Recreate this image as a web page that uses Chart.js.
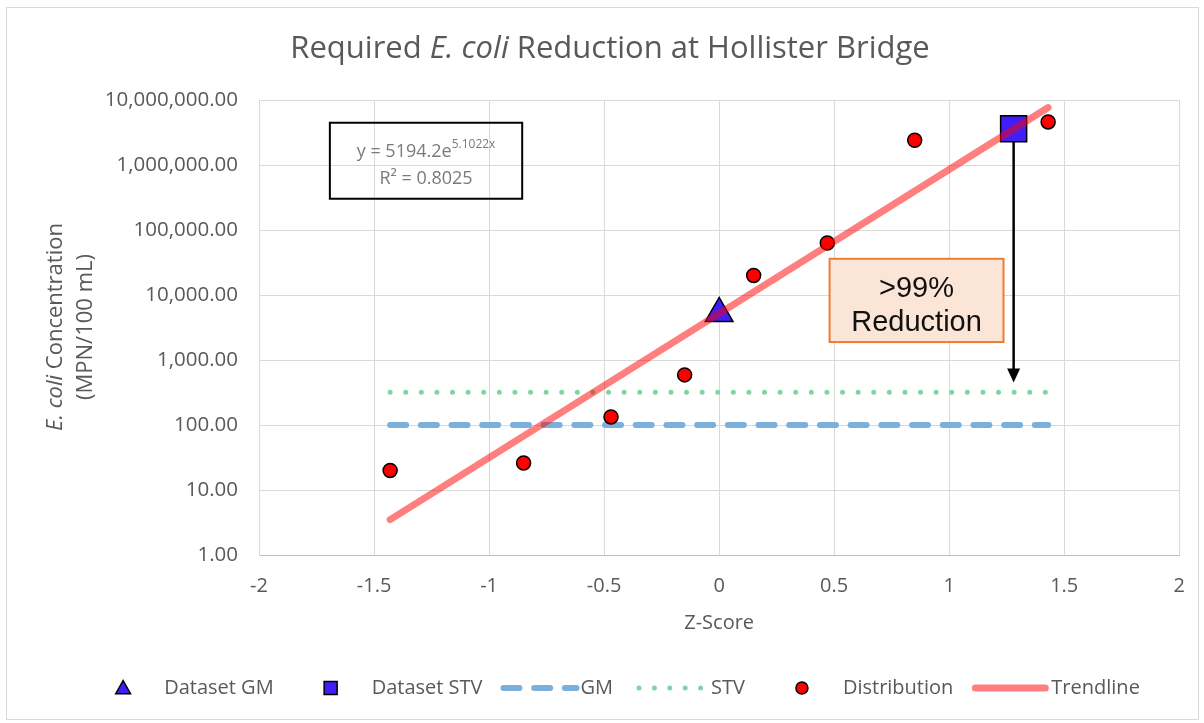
<!DOCTYPE html>
<html>
<head>
<meta charset="utf-8">
<title>Required E. coli Reduction at Hollister Bridge</title>
<script src="https://cdn.jsdelivr.net/npm/chart.js@4.4.1/dist/chart.umd.min.js"></script>
<style>
  html, body { margin: 0; padding: 0; background: #fff; }
  #c { display: block; }
</style>
</head>
<body>
<canvas id="c" width="1204" height="723"></canvas>
<script>
// Data
const zScores = [-1.43, -0.85, -0.47, -0.15, 0.15, 0.47, 0.85, 1.43]
const distribution = [20, 26, 133, 590, 20000, 63000, 2400000, 4600000]
const gmZ = [0]
const gmValue = [5194]
const stvZ = [1.28]
const stvValue = [3600000]
const limitZ = [-1.43, 1.43]
const gmLimit = [100, 100]
const stvLimit = [320, 320]
const trendZ = [-1.43, 1.43]
const trendValue = [3.5, 7650000]
const arrowEnd = 450
const yTicks = [1, 10, 100, 1000, 10000, 100000, 1000000, 10000000]

const FONT = '"Open Sans", sans-serif'
const GREY = '#595959'

// Couleurs
const C = {
  trend: 'rgba(255,0,0,0.5)',
  blue: '#3F1FF5',
  red: '#FF0000',
  gm: '#7BAFDC',
  stv: '#82D3A2',
  grid: '#d9d9d9',
}

const pts = (xs, ys) => xs.map((x, i) => ({ x, y: ys[i] }))

// Helper : texte en plusieurs morceaux (italique / normal)
function drawRuns(ctx, runs, cx, y, size) {
  let total = 0
  runs.forEach(r => {
    ctx.font = `${r.it ? 'italic ' : ''}${size}px ${FONT}`
    r.w = ctx.measureText(r.t).width
    total += r.w
  })
  let x = cx - total / 2
  runs.forEach(r => {
    ctx.font = `${r.it ? 'italic ' : ''}${size}px ${FONT}`
    ctx.fillText(r.t, x, y)
    x += r.w
  })
}

function drawMarker(ctx, style, x, y, r) {
  ctx.save()
  ctx.lineWidth = 1.5
  ctx.strokeStyle = '#000'
  ctx.beginPath()
  if (style === 'triangle') {
    ctx.fillStyle = C.blue
    ctx.moveTo(x, y - r)
    ctx.lineTo(x + r * 0.87, y + r * 0.55)
    ctx.lineTo(x - r * 0.87, y + r * 0.55)
    ctx.closePath()
  } else if (style === 'rect') {
    ctx.fillStyle = C.blue
    ctx.rect(x - r, y - r, 2 * r, 2 * r)
  } else {
    ctx.fillStyle = C.red
    ctx.arc(x, y, r, 0, Math.PI * 2)
  }
  ctx.fill()
  ctx.stroke()
  ctx.restore()
}

function drawSample(ctx, x0, x1, y, color, width, dash) {
  ctx.save()
  ctx.strokeStyle = color
  ctx.lineWidth = width
  ctx.lineCap = 'round'
  ctx.setLineDash(dash)
  ctx.beginPath()
  ctx.moveTo(x0, y)
  ctx.lineTo(x1, y)
  ctx.stroke()
  ctx.restore()
}

const decor = {
  id: 'decor',
  beforeDraw(chart) {
    const ctx = chart.ctx
    ctx.save()
    ctx.fillStyle = '#fff'
    ctx.fillRect(0, 0, chart.width, chart.height)
    ctx.strokeStyle = '#d9d9d9'
    ctx.lineWidth = 1
    ctx.strokeRect(6.5, 7.5, 1192, 712)
    ctx.restore()
  },
  // flèche derrière le carré STV
  beforeDatasetsDraw(chart) {
    const { ctx, scales: { x, y } } = chart
    const ax = x.getPixelForValue(stvZ[0])
    const y0 = y.getPixelForValue(stvValue[0])
    const tip = y.getPixelForValue(arrowEnd)
    ctx.save()
    ctx.strokeStyle = '#000'
    ctx.fillStyle = '#000'
    ctx.lineWidth = 2.5
    ctx.beginPath()
    ctx.moveTo(ax, y0)
    ctx.lineTo(ax, tip - 12)
    ctx.stroke()
    ctx.beginPath()
    ctx.moveTo(ax, tip)
    ctx.lineTo(ax - 6.5, tip - 14)
    ctx.lineTo(ax + 6.5, tip - 14)
    ctx.closePath()
    ctx.fill()
    ctx.restore()
  },
  afterDraw(chart) {
    const { ctx, chartArea: a } = chart
    const W = a.right - a.left
    const H = a.bottom - a.top
    ctx.save()

    // Titre
    ctx.fillStyle = GREY
    ctx.textBaseline = 'alphabetic'
    ctx.textAlign = 'left'
    drawRuns(ctx, [
      { t: 'Required ' }, { t: 'E. coli', it: true }, { t: ' Reduction at Hollister Bridge' }
    ], 610, 58, 31)

    // Titre axe Y
    ctx.save()
    ctx.translate(56, 327)
    ctx.rotate(-Math.PI / 2)
    ctx.textBaseline = 'middle'
    drawRuns(ctx, [{ t: 'E. coli', it: true }, { t: ' Concentration' }], 0, 0, 22)
    ctx.restore()
    ctx.save()
    ctx.translate(86, 327)
    ctx.rotate(-Math.PI / 2)
    ctx.textBaseline = 'middle'
    drawRuns(ctx, [{ t: '(MPN/100 mL)' }], 0, 0, 22)
    ctx.restore()

    // Boîte équation
    const ex0 = a.left + W * 0.077, ex1 = a.left + W * 0.286
    const ey0 = a.top + H * 0.05, ey1 = a.top + H * 0.217
    ctx.strokeStyle = '#000'
    ctx.lineWidth = 2
    ctx.strokeRect(ex0, ey0, ex1 - ex0, ey1 - ey0)
    const ecx = (ex0 + ex1) / 2
    ctx.fillStyle = '#7a7a7a'
    ctx.font = `18px ${FONT}`
    const base = 'y = 5194.2e'
    const bw = ctx.measureText(base).width
    ctx.font = `12px ${FONT}`
    const sup = '5.1022x'
    const sw = ctx.measureText(sup).width
    let sx = ecx - (bw + sw) / 2
    ctx.font = `18px ${FONT}`
    ctx.fillText(base, sx, ey0 + 34)
    ctx.font = `12px ${FONT}`
    ctx.fillText(sup, sx + bw, ey0 + 25)
    ctx.font = `18px ${FONT}`
    ctx.textAlign = 'center'
    ctx.fillText('R² = 0.8025', ecx, ey0 + 61)

    // Boîte >99% Reduction
    const rx0 = a.left + W * 0.620, rx1 = a.left + W * 0.809
    const ry0 = a.top + H * 0.349, ry1 = a.top + H * 0.532
    ctx.fillStyle = '#FBE5D6'
    ctx.fillRect(rx0, ry0, rx1 - rx0, ry1 - ry0)
    ctx.strokeStyle = '#ED7D31'
    ctx.lineWidth = 2
    ctx.strokeRect(rx0, ry0, rx1 - rx0, ry1 - ry0)
    ctx.fillStyle = '#111'
    ctx.font = '29px "Liberation Sans", Arial, sans-serif'
    const rcx = (rx0 + rx1) / 2
    ctx.fillText('>99%', rcx, ry0 + 38)
    ctx.fillText('Reduction', rcx, ry0 + 72)

    // Légende
    const items = [
      { label: 'Dataset GM', kind: 'triangle' },
      { label: 'Dataset STV', kind: 'rect' },
      { label: 'GM', kind: 'gm' },
      { label: 'STV', kind: 'stv' },
      { label: 'Distribution', kind: 'circle' },
      { label: 'Trendline', kind: 'trend' },
    ]
    const SW = 78, TG = 2, IG = 18, LY = 688
    ctx.font = `20px ${FONT}`
    ctx.textAlign = 'left'
    ctx.textBaseline = 'middle'
    let total = 0
    items.forEach(it => { it.w = ctx.measureText(it.label).width; total += SW + TG + it.w })
    total += IG * (items.length - 1)
    let lx = 612 - total / 2
    items.forEach(it => {
      const mid = lx + SW / 2
      if (it.kind === 'triangle') drawMarker(ctx, 'triangle', mid, LY + 1, 8.5)
      else if (it.kind === 'rect') drawMarker(ctx, 'rect', mid, LY, 6.5)
      else if (it.kind === 'circle') drawMarker(ctx, 'circle', mid, LY, 6)
      else if (it.kind === 'gm') drawSample(ctx, lx + 3, lx + SW - 2, LY, C.gm, 6, [16, 14.7])
      else if (it.kind === 'stv') drawSample(ctx, lx + 8, lx + SW - 8, LY, C.stv, 5, [0, 15.4])
      else drawSample(ctx, lx + 4, lx + SW - 4, LY, C.trend, 7, [])
      ctx.fillStyle = GREY
      ctx.font = `20px ${FONT}`
      ctx.fillText(it.label, lx + SW + TG, LY)
      lx += SW + TG + it.w + IG
    })

    ctx.restore()
  }
}

const ctx = document.getElementById('c').getContext('2d')
new Chart(ctx, {
  type: 'scatter',
  data: {
    datasets: [
      {
        label: 'Trendline', data: pts(trendZ, trendValue), showLine: true,
        borderColor: C.trend, borderWidth: 7, borderCapStyle: 'round', pointRadius: 0, order: 0,
      },
      {
        label: 'Dataset STV', data: pts(stvZ, stvValue), pointStyle: 'rect', pointRadius: 18.4,
        backgroundColor: C.blue, borderColor: '#000', borderWidth: 1.5, order: 1,
      },
      {
        label: 'Dataset GM', data: pts(gmZ, gmValue), pointStyle: 'triangle', pointRadius: 16,
        backgroundColor: C.blue, borderColor: '#000', borderWidth: 1.5, order: 1,
      },
      {
        label: 'Distribution', data: pts(zScores, distribution), pointStyle: 'circle', pointRadius: 7,
        backgroundColor: C.red, borderColor: '#000', borderWidth: 1.5, order: 2,
      },
      {
        label: 'STV', data: pts(limitZ, stvLimit), showLine: true, pointRadius: 0,
        borderColor: C.stv, borderWidth: 5, borderDash: [0, 15.6], borderCapStyle: 'round', order: 3,
      },
      {
        label: 'GM', data: pts(limitZ, gmLimit), showLine: true, pointRadius: 0,
        borderColor: C.gm, borderWidth: 6, borderDash: [16, 14.7], borderCapStyle: 'round', order: 3,
      },
    ],
  },
  options: {
    responsive: false,
    animation: false,
    events: [],
    layout: { padding: { top: 100, right: 23, bottom: 78, left: 10 } },
    plugins: {
      legend: { display: false },
      title: { display: false },
      tooltip: { enabled: false },
    },
    scales: {
      x: {
        type: 'linear', min: -2, max: 2,
        ticks: {
          stepSize: 0.5, color: GREY, padding: 19,
          font: { family: FONT, size: 20 },
          callback: v => String(v),
        },
        grid: { color: C.grid, drawTicks: false },
        border: { color: '#bfbfbf' },
        title: {
          display: true, text: 'Z-Score', color: GREY,
          font: { family: FONT, size: 20 }, padding: { top: 0, bottom: 10 },
        },
        afterFit: s => { s.height = 90 },
      },
      y: {
        type: 'logarithmic', min: 1, max: 10000000,
        afterBuildTicks: s => { s.ticks = yTicks.map(v => ({ value: v })) },
        ticks: {
          color: GREY, padding: 21,
          font: { family: FONT, size: 20.5 },
          callback: v => Number(v).toLocaleString('en-US', { minimumFractionDigits: 2, maximumFractionDigits: 2 }),
        },
        grid: { color: C.grid, drawTicks: false },
        border: { color: C.grid },
        afterFit: s => { s.width = 249 },
      },
    },
  },
  plugins: [decor],
})
</script>
</body>
</html>
